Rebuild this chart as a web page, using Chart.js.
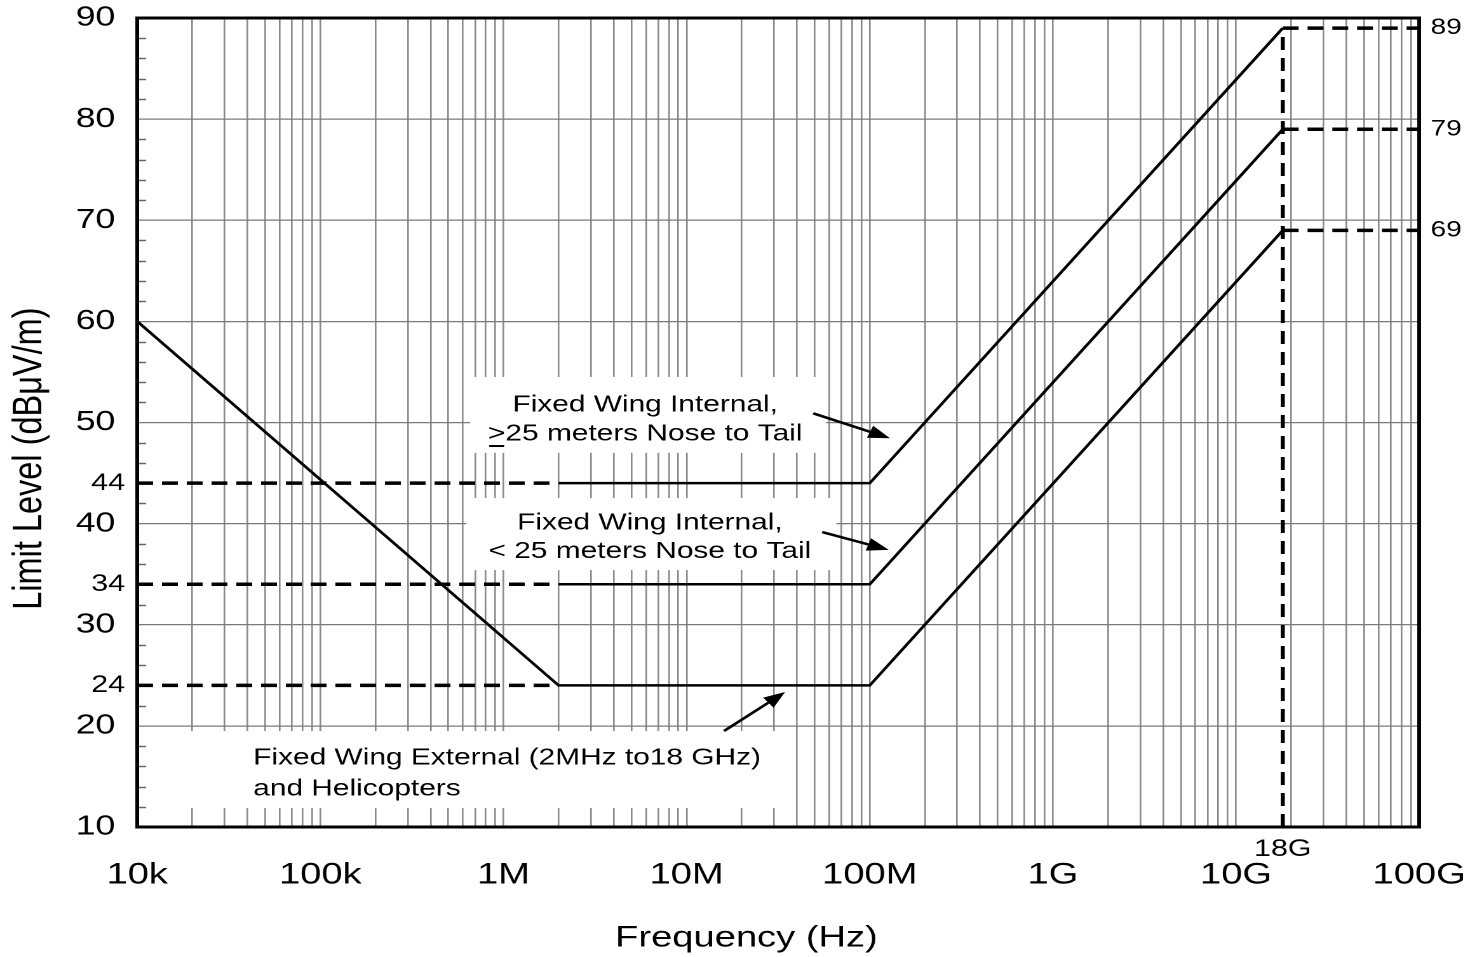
<!DOCTYPE html>
<html>
<head>
<meta charset="utf-8">
<script src="https://cdn.jsdelivr.net/npm/chart.js@4.4.1/dist/chart.umd.min.js"></script>
<style>
  html, body { margin: 0; padding: 0; background: #fff; overflow: hidden; }
  /* the drawing is laid out narrow and widened horizontally */
  #frame { width: 1157px; height: 957px; transform: scaleX(1.2705); transform-origin: 0 0; }
</style>
</head>
<body>
<div id="frame"><canvas id="limits"></canvas></div>
<script>
// ---- Limit curves (frequency in Hz, level in dBµV/m) ----
const externalFreqs  = [1e4, 2e6, 1e8, 1.8e10];
const externalLevels = [60, 24, 24, 69];

const internalShortFreqs  = [2e6, 1e8, 1.8e10];
const internalShortLevels = [34, 34, 79];

const internalLongFreqs  = [2e6, 1e8, 1.8e10];
const internalLongLevels = [44, 44, 89];

// dashed reference levels
const lowRefFreqs   = [1e4, 2e6];
const lowRefLevels  = [44, 34, 24];
const highRefFreqs  = [1.8e10, 1e11];
const highRefLevels = [89, 79, 69];
const cutoffFreq    = 1.8e10;
const cutoffLevels  = [10, 89];

// axis ticks
const xDecadeFreqs = [1e4, 1e5, 1e6, 1e7, 1e8, 1e9, 1e10, 1e11];
const xTickLabels  = ['10k', '100k', '1M', '10M', '100M', '1G', '10G', '100G'];
const xMarkFreqs   = [1.8e10];
const xMarkLabels  = ['18G'];
const yMajorTicks  = [10, 20, 30, 40, 50, 60, 70, 80, 90];
const yMarkedTicks = [24, 34, 44];
const yRightTicks  = [69, 79, 89];

// ---- drawing helpers ----
const FONT = '"Liberation Sans", Arial, Helvetica, sans-serif';
const toPoints = (xs, ys) => xs.map((x, i) => ({ x, y: ys[i] }));
const noPadding = s => { s.paddingTop = 0; s.paddingBottom = 0; s.paddingLeft = 0; s.paddingRight = 0; };

// log grid: 1..9 in every decade
const xGridFreqs = [];
for (let k = 0; k < xDecadeFreqs.length - 1; k++) {
  for (let m = 1; m <= 9; m++) xGridFreqs.push(m * xDecadeFreqs[k]);
}
xGridFreqs.push(xDecadeFreqs[xDecadeFreqs.length - 1]);

const yStepTicks = [];
for (let v = yMajorTicks[0]; v <= yMajorTicks[yMajorTicks.length - 1]; v += 2) yStepTicks.push(v);

const datasets = [];
lowRefLevels.forEach(l => datasets.push({
  data: toPoints(lowRefFreqs, [l, l]), borderColor: '#000', borderWidth: 3.5, borderDash: [12.5, 7]
}));
highRefLevels.forEach(l => datasets.push({
  data: toPoints(highRefFreqs, [l, l]), borderColor: '#000', borderWidth: 3.5, borderDash: [12.5, 7]
}));
datasets.push({
  data: toPoints([cutoffFreq, cutoffFreq], cutoffLevels), borderColor: '#000', borderWidth: 3.2, borderDash: [13, 8]
});
datasets.push({ data: toPoints(externalFreqs, externalLevels), borderColor: '#000', borderWidth: 2.5 });
datasets.push({ data: toPoints(internalShortFreqs, internalShortLevels), borderColor: '#000', borderWidth: 2.5 });
datasets.push({ data: toPoints(internalLongFreqs, internalLongLevels), borderColor: '#000', borderWidth: 2.5 });
datasets.forEach(d => { d.showLine = true; d.pointRadius = 0; d.fill = false; d.borderJoinStyle = 'miter'; });

// callout boxes, texts and arrows, placed in data units
const calloutBoxes = [
  [6.58e5, 54.5, 5.78e7, 47.0],
  [6.26e5, 42.53, 6.56e7, 35.41],
  [1.42e4, 19.49, 3.45e7, 11.88]
];
const calloutTexts = [
  { x: 5.94e6, ys: [51.73, 48.86], lines: ['Fixed Wing Internal,', '>25 meters Nose to Tail'], align: 'center', underlineLead: true },
  { x: 6.3e6,  ys: [40.06, 37.22], lines: ['Fixed Wing Internal,', '< 25 meters Nose to Tail'], align: 'center' },
  { x: 4.30e4, ys: [16.82, 13.75], lines: ['Fixed Wing External (2MHz to18 GHz)', 'and Helicopters'], align: 'left' }
];
const calloutArrows = [
  { from: [4.91e7, 50.91], to: [1.29e8, 48.44] },
  { from: [5.5e7, 39.17],  to: [1.27e8, 37.4] },
  { from: [1.6e7, 19.49],  to: [3.45e7, 23.35] }
];

const calloutPlugin = {
  id: 'callouts',
  beforeDatasetsDraw(chart) {
    const { ctx, chartArea: a, scales: { x, y } } = chart;
    ctx.save();
    // white panels behind the callout texts
    ctx.fillStyle = '#fff';
    calloutBoxes.forEach(([x0, y0, x1, y1]) => {
      const px0 = x.getPixelForValue(x0), px1 = x.getPixelForValue(x1);
      const py0 = y.getPixelForValue(y0), py1 = y.getPixelForValue(y1);
      ctx.fillRect(px0, py0, px1 - px0, py1 - py0);
    });
    // short inner tick marks every 2 dB on the left edge
    ctx.strokeStyle = '#666';
    ctx.lineWidth = 1.5;
    yStepTicks.forEach(v => {
      if (v % 10 === 0) return;
      const py = Math.round(y.getPixelForValue(v)) + 0.5;
      ctx.beginPath();
      ctx.moveTo(a.left, py);
      ctx.lineTo(a.left + 7, py);
      ctx.stroke();
    });
    ctx.restore();
  },
  afterDatasetsDraw(chart) {
    const { ctx, chartArea: a, scales: { x, y } } = chart;
    ctx.save();
    // frame
    ctx.strokeStyle = '#000';
    ctx.lineWidth = 3;
    ctx.strokeRect(a.left, a.top, a.right - a.left, a.bottom - a.top);

    // texts
    ctx.fillStyle = '#000';
    ctx.font = '23.5px ' + FONT;
    ctx.textBaseline = 'middle';
    ctx.textAlign = 'left';
    calloutTexts.forEach(t => {
      const px = x.getPixelForValue(t.x);
      t.lines.forEach((line, i) => {
        const py = y.getPixelForValue(t.ys[i]);
        const w = ctx.measureText(line).width;
        const start = t.align === 'center' ? px - w / 2 : px;
        ctx.fillText(line, start, py);
        if (t.underlineLead && i === 1) {
          const gw = ctx.measureText(line[0]).width;
          ctx.fillRect(start + 1, py + 11, gw - 2, 2);
        }
      });
    });

    // arrows
    ctx.strokeStyle = '#000';
    ctx.lineWidth = 2.5;
    calloutArrows.forEach(ar => {
      const x0 = x.getPixelForValue(ar.from[0]), y0 = y.getPixelForValue(ar.from[1]);
      const x1 = x.getPixelForValue(ar.to[0]),   y1 = y.getPixelForValue(ar.to[1]);
      const ang = Math.atan2(y1 - y0, x1 - x0);
      const len = 17, half = 6.5;
      const bx = x1 - len * Math.cos(ang), by = y1 - len * Math.sin(ang);
      ctx.beginPath();
      ctx.moveTo(x0, y0);
      ctx.lineTo(bx, by);
      ctx.stroke();
      ctx.beginPath();
      ctx.moveTo(x1, y1);
      ctx.lineTo(bx + half * Math.sin(ang), by - half * Math.cos(ang));
      ctx.lineTo(bx - half * Math.sin(ang), by + half * Math.cos(ang));
      ctx.closePath();
      ctx.fill();
    });
    ctx.restore();
  }
};

new Chart(document.getElementById('limits'), {
  type: 'scatter',
  data: { datasets },
  plugins: [calloutPlugin],
  options: {
    responsive: true,
    maintainAspectRatio: false,
    animation: false,
    devicePixelRatio: 2,
    layout: { padding: { top: 18, left: 0, right: 0, bottom: 0 } },
    plugins: { legend: { display: false }, tooltip: { enabled: false } },
    scales: {
      x: {
        type: 'logarithmic', position: 'bottom', weight: 1,
        min: xDecadeFreqs[0], max: xDecadeFreqs[xDecadeFreqs.length - 1],
        afterBuildTicks: s => { s.ticks = xGridFreqs.map(v => ({ value: v })); },
        afterFit: s => { s.height = 100; noPadding(s); },
        ticks: {
          autoSkip: false, maxRotation: 0, minRotation: 0, padding: 0, color: '#000',
          font: { size: 30, family: FONT },
          callback: v => { const i = xDecadeFreqs.indexOf(v); return i >= 0 ? xTickLabels[i] : ''; }
        },
        grid: { color: '#8a8a8a', lineWidth: 1.3, drawTicks: false },
        border: { display: false },
        title: {
          display: true, text: 'Frequency (Hz)      ', color: '#000',
          font: { size: 30, family: FONT }, padding: { top: 0, bottom: 1 }
        }
      },
      x2: {
        type: 'logarithmic', position: 'bottom', weight: 0,
        min: xDecadeFreqs[0], max: xDecadeFreqs[xDecadeFreqs.length - 1],
        afterBuildTicks: s => { s.ticks = xMarkFreqs.map(v => ({ value: v })); },
        afterFit: s => { s.height = 30; noPadding(s); },
        ticks: {
          autoSkip: false, maxRotation: 0, minRotation: 0, padding: 8, color: '#000',
          font: { size: 24, family: FONT },
          callback: v => { const i = xMarkFreqs.indexOf(v); return i >= 0 ? xMarkLabels[i] : ''; }
        },
        grid: { display: false, drawTicks: false },
        border: { display: false }
      },
      y: {
        type: 'linear', position: 'left',
        min: yMajorTicks[0], max: yMajorTicks[yMajorTicks.length - 1],
        afterBuildTicks: s => { s.ticks = yStepTicks.map(v => ({ value: v })); },
        afterFit: s => { s.width = 108; noPadding(s); },
        ticks: {
          autoSkip: false, padding: 9.5, color: '#000',
          font: ctx => ({ size: (ctx.tick && ctx.tick.value % 10 === 0) ? 28 : 24, family: FONT }),
          callback: v => yMajorTicks.includes(v) ? v + ' ' : (yMarkedTicks.includes(v) ? String(v) : '')
        },
        grid: {
          drawTicks: false, lineWidth: 1.2,
          color: ctx => (ctx.tick && ctx.tick.value % 10 === 0) ? '#7a7a7a' : 'rgba(0,0,0,0)'
        },
        border: { display: false },
        title: {
          display: true, text: 'Limit Level (dBμV/m)        ', color: '#000',
          font: { size: 32.5, family: FONT }, padding: { top: 4, bottom: 0 }
        }
      },
      y2: {
        type: 'linear', position: 'right',
        min: yMajorTicks[0], max: yMajorTicks[yMajorTicks.length - 1],
        afterBuildTicks: s => { s.ticks = yRightTicks.map(v => ({ value: v })); },
        afterFit: s => { s.width = 40; noPadding(s); },
        ticks: { autoSkip: false, padding: 9, color: '#000', font: { size: 22, family: FONT } },
        grid: { display: false, drawTicks: false },
        border: { display: false }
      }
    }
  }
});
</script>
</body>
</html>
